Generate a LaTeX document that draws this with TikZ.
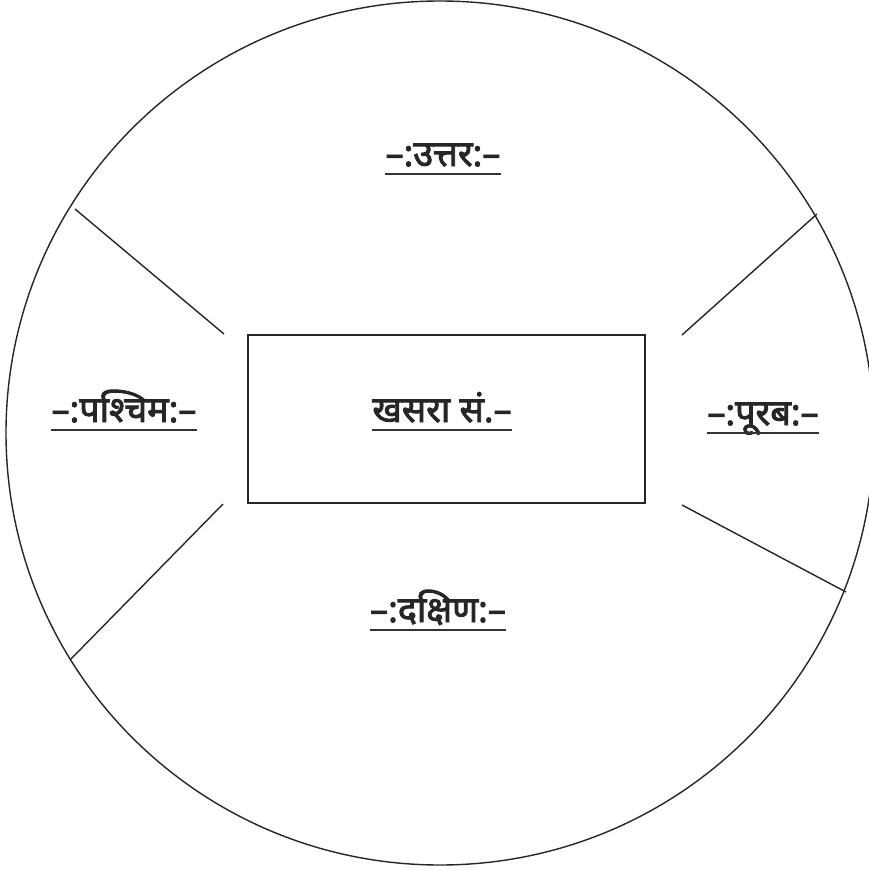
\documentclass[tikz,border=0pt]{standalone}
\usepackage{fontspec}
\usetikzlibrary{shapes.geometric}
\newfontfamily\dev[Script=Devanagari,FakeBold=2.5]{Noto Sans}
\begin{document}
\begin{tikzpicture}[x=1pt,y=-1pt,
  edge/.style={line width=1.4pt,black!85},
  lbl/.style={font=\dev\fontsize{36}{40}\selectfont,inner sep=0pt,text=black!85},
  uline/.style={line width=1.3pt,black!80}]
\useasboundingbox (0,0) rectangle (869,870);
\node[draw,edge,ellipse,minimum width=868pt,minimum height=864pt,inner sep=0pt] (circ) at (440,433) {};
\node[draw,edge,rectangle,minimum width=397pt,minimum height=168pt,inner sep=0pt] (box) at (446.5,419) {};
\coordinate (ul1) at (75,209); \coordinate (ul2) at (224,334);
\coordinate (ur1) at (817,214); \coordinate (ur2) at (682,335);
\coordinate (ll1) at (70,660); \coordinate (ll2) at (223,504);
\coordinate (lr1) at (682,505); \coordinate (lr2) at (846,592);
\draw[edge] (ul1) -- (ul2);
\draw[edge] (ur1) -- (ur2);
\draw[edge] (ll1) -- (ll2);
\draw[edge] (lr1) -- (lr2);
\node[lbl,anchor=base] (north) at (443,166) {–:उत्तर:–};
\node[lbl,anchor=base] (west) at (124,422) {–:पश्चिम:–};
\node[lbl,anchor=base] (khasra) at (442,422) {खसरा सं.–};
\node[lbl,anchor=base] (east) at (763,425) {–:पूरब:–};
\node[lbl,anchor=base] (south) at (438,622) {–:दक्षिण:–};
\foreach \n in {north,west,khasra,east,south}
  \draw[uline] ([yshift=-8pt]\n.base west) -- ([yshift=-8pt]\n.base east);
\end{tikzpicture}
\end{document}
